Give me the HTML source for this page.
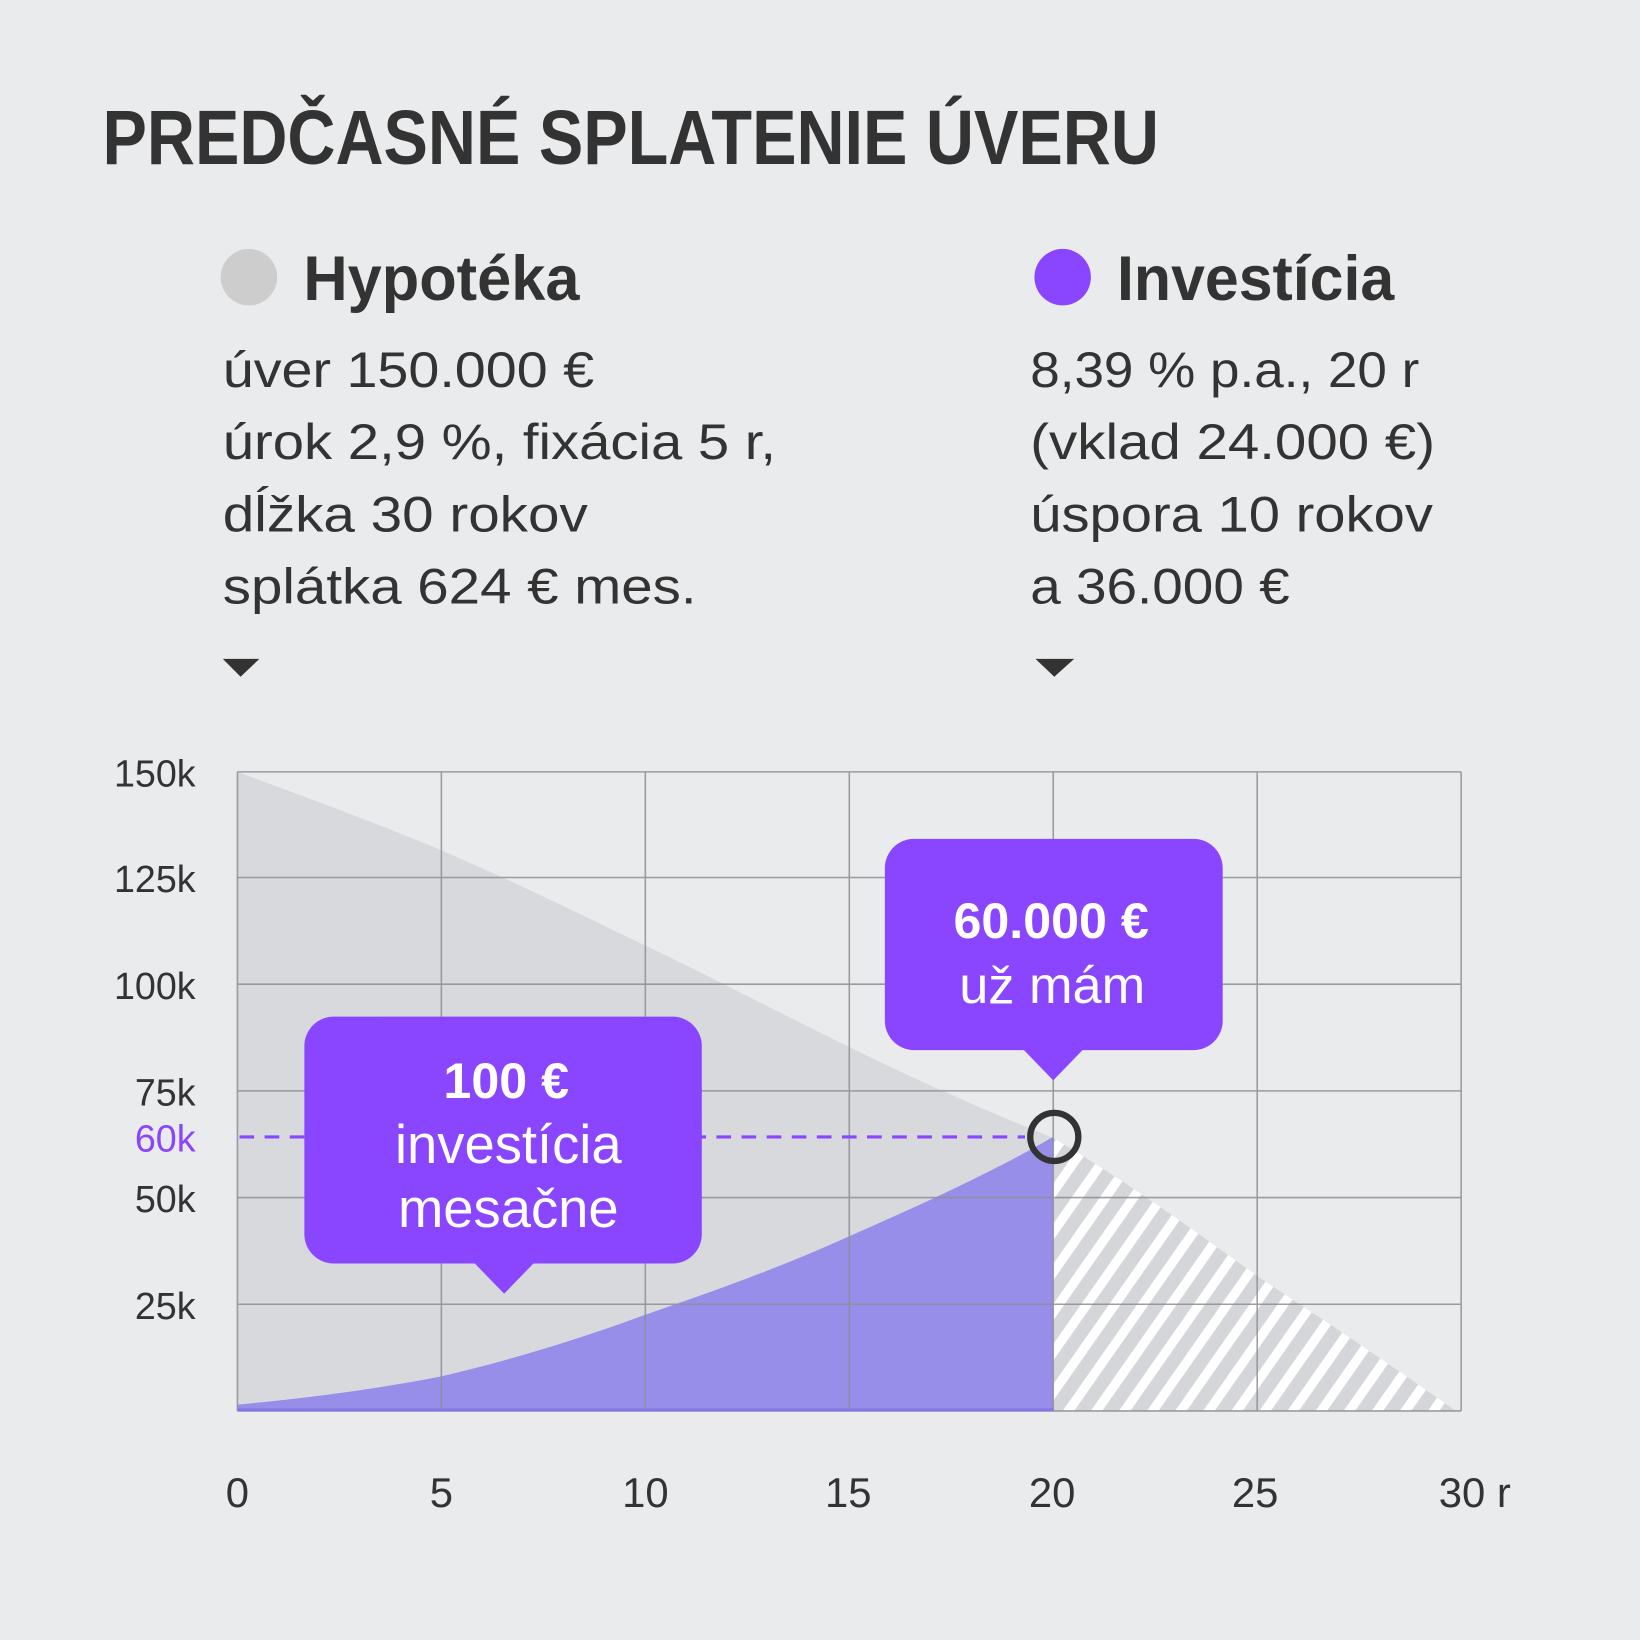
<!DOCTYPE html>
<html><head><meta charset="utf-8"><style>
html,body{margin:0;padding:0;background:#EAEBED}
svg{display:block}
text{font-family:"Liberation Sans",sans-serif}
</style></head><body>
<svg width="1640" height="1640" viewBox="0 0 1568 1568" xmlns="http://www.w3.org/2000/svg">
<defs>
<pattern id="hatch" patternUnits="userSpaceOnUse" width="22" height="22" patternTransform="rotate(35)">
<rect width="22" height="22" fill="#D5D6D9"/>
<rect width="9" height="22" fill="#FFFFFF"/>
</pattern>
<clipPath id="rightclip"><rect x="1007" y="700" width="400" height="660"/></clipPath>
<clipPath id="leftclip"><rect x="227" y="700" width="780" height="660"/></clipPath>
</defs>
<rect width="1568" height="1568" fill="#EAEBED"/>
<text x="98" y="157" font-size="74" font-weight="bold" fill="#333" textLength="1010" lengthAdjust="spacingAndGlyphs">PREDČASNÉ SPLATENIE ÚVERU</text>

<circle cx="238" cy="265" r="27" fill="#CDCDCD"/>
<text x="290" y="287" font-size="60" font-weight="bold" fill="#333" textLength="264" lengthAdjust="spacingAndGlyphs">Hypotéka</text>
<circle cx="1016" cy="265" r="27" fill="#8A45FF"/>
<text x="1068" y="287" font-size="60" font-weight="bold" fill="#333" textLength="265" lengthAdjust="spacingAndGlyphs">Investícia</text>

<g font-size="48" fill="#333">
<text x="213" y="370" textLength="355" lengthAdjust="spacingAndGlyphs">úver 150.000 €</text>
<text x="213" y="439" textLength="529" lengthAdjust="spacingAndGlyphs">úrok 2,9 %, fixácia 5 r,</text>
<text x="213" y="508" textLength="349" lengthAdjust="spacingAndGlyphs">dĺžka 30 rokov</text>
<text x="213" y="577" textLength="453" lengthAdjust="spacingAndGlyphs">splátka 624 € mes.</text>
<text x="985" y="370" textLength="372" lengthAdjust="spacingAndGlyphs">8,39 % p.a., 20 r</text>
<text x="985" y="439" textLength="387" lengthAdjust="spacingAndGlyphs">(vklad 24.000 €)</text>
<text x="985" y="508" textLength="385" lengthAdjust="spacingAndGlyphs">úspora 10 rokov</text>
<text x="985" y="577" textLength="248" lengthAdjust="spacingAndGlyphs">a 36.000 €</text>
</g>
<polygon points="213,630 248,630 230,647" fill="#333"/>
<polygon points="990,630 1027,630 1008,647" fill="#333"/>

<path clip-path="url(#leftclip)" d="M227,738 C300,765 360,787 422,813 C490,842 550,872 617,904 C690,939 750,971 812,1001 C880,1035 950,1065 1007,1088 C1070,1125 1140,1175 1202,1220 C1270,1265 1330,1305 1392,1349 L227,1349 Z" fill="#D8D9DD"/>
<path clip-path="url(#rightclip)" d="M227,738 C300,765 360,787 422,813 C490,842 550,872 617,904 C690,939 750,971 812,1001 C880,1035 950,1065 1007,1088 C1070,1125 1140,1175 1202,1220 C1270,1265 1330,1305 1392,1349 L227,1349 Z" fill="url(#hatch)"/>
<path d="M227,1343 C300,1336 360,1328 422,1316 C490,1300 555,1280 617,1257 C690,1232 750,1210 812,1182 C880,1152 950,1120 1007,1087 L1007,1349 L227,1349 Z" fill="#978EEA"/>

<g stroke="#8E8E92" stroke-width="1.5" opacity="0.85">
<line x1="227" y1="738" x2="1397" y2="738"/>
<line x1="227" y1="839" x2="1397" y2="839"/>
<line x1="227" y1="941" x2="1397" y2="941"/>
<line x1="227" y1="1043" x2="1397" y2="1043"/>
<line x1="227" y1="1145" x2="1397" y2="1145"/>
<line x1="227" y1="1247" x2="1397" y2="1247"/>
<line x1="227" y1="1349" x2="1397" y2="1349"/>
<line x1="227" y1="738" x2="227" y2="1349"/>
<line x1="422" y1="738" x2="422" y2="1349"/>
<line x1="617" y1="738" x2="617" y2="1349"/>
<line x1="812" y1="738" x2="812" y2="1349"/>
<line x1="1007" y1="738" x2="1007" y2="1349"/>
<line x1="1202" y1="738" x2="1202" y2="1349"/>
<line x1="1397" y1="738" x2="1397" y2="1349"/>
</g>
<line x1="227" y1="1348" x2="1007" y2="1348" stroke="#8478E8" stroke-width="3"/>
<line x1="229" y1="1087" x2="980" y2="1087" stroke="#8A45FF" stroke-width="3" stroke-dasharray="14 10"/>
<circle cx="1008" cy="1087" r="23" fill="none" stroke="#333" stroke-width="6"/>

<g font-size="36" fill="#333" text-anchor="end">
<text x="187" y="752">150k</text>
<text x="187" y="853">125k</text>
<text x="187" y="955">100k</text>
<text x="187" y="1057">75k</text>
<text x="187" y="1101" fill="#8A45FF">60k</text>
<text x="187" y="1159">50k</text>
<text x="187" y="1261">25k</text>
</g>
<g font-size="40" fill="#333" text-anchor="middle">
<text x="227" y="1441">0</text>
<text x="422" y="1441">5</text>
<text x="617" y="1441">10</text>
<text x="811" y="1441">15</text>
<text x="1006" y="1441">20</text>
<text x="1200" y="1441">25</text>
<text x="1410" y="1441">30 r</text>
</g>

<rect x="291" y="972" width="380" height="236" rx="28" fill="#8A45FF"/>
<polygon points="453,1207 511,1207 482,1237" fill="#8A45FF"/>
<g fill="#fff" text-anchor="middle">
<text x="484" y="1050" font-size="48" font-weight="bold">100 €</text>
<text x="486" y="1112" font-size="52">investícia</text>
<text x="486" y="1173" font-size="52">mesačne</text>
</g>
<rect x="846" y="802" width="323" height="202" rx="28" fill="#8A45FF"/>
<polygon points="978,1003 1036,1003 1007,1033" fill="#8A45FF"/>
<g fill="#fff" text-anchor="middle">
<text x="1005" y="897" font-size="48" font-weight="bold">60.000 €</text>
<text x="1006" y="959" font-size="50">už mám</text>
</g>
</svg>
</body></html>
